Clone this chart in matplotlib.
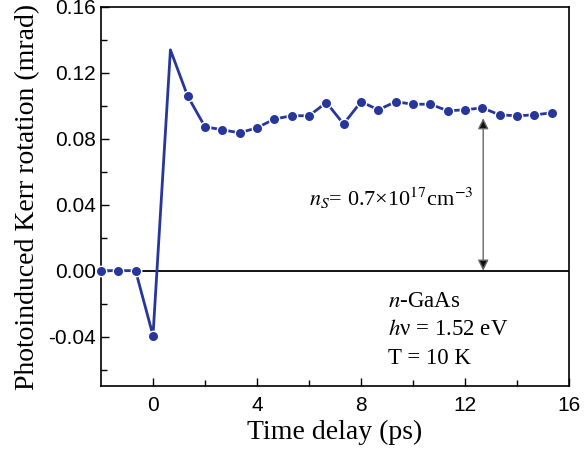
import numpy as np
import matplotlib
matplotlib.use("Agg")
import matplotlib.pyplot as plt

plt.rcParams["mathtext.fontset"] = "stix"

# time delay (ps) and Kerr rotation (mrad)
delay = [-2.0, -1.33, -0.67, 0.0, 0.67, 1.33, 2.0, 2.67, 3.33, 4.0, 4.67, 5.33,
         6.0, 6.67, 7.33, 8.0, 8.67, 9.33, 10.0, 10.67, 11.33, 12.0, 12.67,
         13.33, 14.0, 14.67, 15.33]
kerr = [0.0, 0.0, 0.0, -0.0394, 0.134, 0.106, 0.0873, 0.0855, 0.0836, 0.0867,
        0.092, 0.094, 0.094, 0.102, 0.089, 0.1025, 0.0976, 0.1025, 0.101, 0.101,
        0.097, 0.0976, 0.0988, 0.0945, 0.094, 0.0945, 0.0958]
peak_idx = 4          # apex has no marker in the original
arrow_x = 12.7
arrow_top = 0.0925

blue = "#26369a"
serif = "Liberation Serif"
sans = "Liberation Sans"

fig = plt.figure(figsize=(5.84, 4.5), dpi=100)
ax = fig.add_axes([101/584, 1 - 386/450, (569-101)/584, (386-7)/450])

ax.axhline(0, color="black", lw=1.3, zorder=1)
marks = [i for i in range(len(delay)) if i != peak_idx]
ax.plot(delay, kerr, "-o", color=blue, lw=2.0, ms=7.5, mfc=blue,
        mec="white", mew=1.0, markevery=marks, zorder=3, clip_on=False)

ax.annotate("", xy=(arrow_x, 0.0), xytext=(arrow_x, arrow_top),
            arrowprops=dict(arrowstyle="<|-|>", lw=1.0,
                            mutation_scale=16, shrinkA=0, shrinkB=0,
                            ec="#666666", fc="#111111"))
ax.text(6.0, 0.044, r"$n_S$= 0.7×10$^{17}$cm$^{-3}$", fontsize=16,
        family=serif, va="center", ha="left")
for i, s in enumerate([r"$n$-GaAs", r"$h$ν = 1.52 eV", "T = 10 K"]):
    ax.text(9.05, -0.0185 - i * 0.0175, s, fontsize=16.5, family=serif,
            va="center", ha="left")

ax.set_xlim(-2, 16)
ax.set_ylim(-0.07, 0.16)
ax.set_xticks([0, 4, 8, 12, 16])
ax.set_xticks([2, 6, 10, 14], minor=True)
ax.set_yticks([-0.04, 0.0, 0.04, 0.08, 0.12, 0.16])
ax.set_yticks([-0.06, -0.02, 0.02, 0.06, 0.10, 0.14], minor=True)
ax.set_yticklabels(["-0.04", "0.00", "0.04", "0.08", "0.12", "0.16"])
ax.tick_params(which="both", direction="in", top=False, right=False,
               width=1.0, labelsize=15)
ax.tick_params(axis="x", pad=7)
ax.tick_params(which="major", length=6)
ax.tick_params(which="minor", length=4)
for lab in ax.get_xticklabels() + ax.get_yticklabels():
    lab.set_family(sans)
for sp in ax.spines.values():
    sp.set_linewidth(1.2)

ax.set_xlabel("Time delay (ps)", fontsize=20, family=serif, labelpad=4)
ax.set_ylabel("Photoinduced Kerr rotation (mrad)", fontsize=20, family=serif,
              labelpad=6)

fig.savefig("out.png", dpi=100)
